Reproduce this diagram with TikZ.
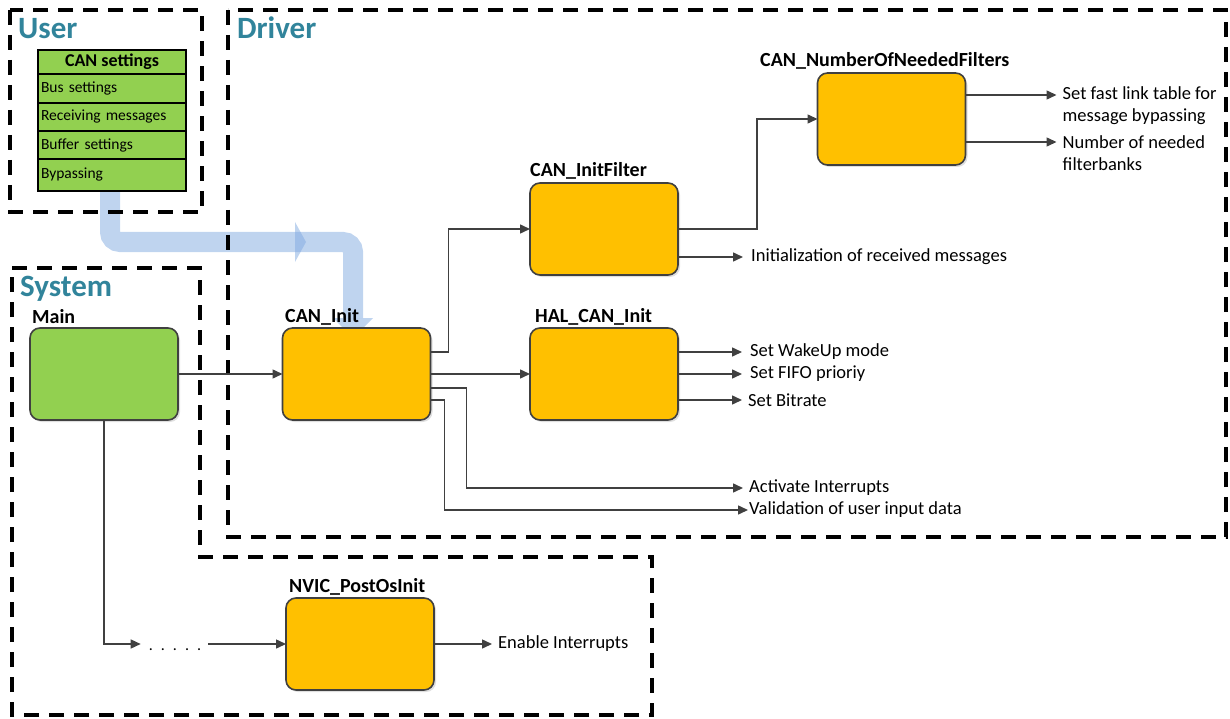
\documentclass[tikz,border=0pt]{standalone}
\usepackage{fontspec}
\setmainfont{Carlito}
\usetikzlibrary{arrows.meta,shadows,calc}
\definecolor{orangeC}{HTML}{FFC000}
\definecolor{greenC}{HTML}{92D050}
\definecolor{borderC}{HTML}{404040}
\definecolor{tealC}{HTML}{31849B}
\definecolor{blueB}{HTML}{7FA9E0}
\tikzset{
  frame/.style={draw=black, line width=3.2pt, dash pattern=on 15pt off 10pt},
  fnbox/.style={draw=borderC, line width=1.6pt, rounded corners=10pt, minimum width=148pt, minimum height=92pt, inner sep=0pt, outer sep=0pt,
    drop shadow={shadow xshift=2pt, shadow yshift=-2pt, opacity=0.25}},
  arr/.style={draw=borderC, line width=1.5pt, -{Triangle[length=10pt,width=9pt]}},
  titletxt/.style={font=\bfseries\fontsize{31}{34}\selectfont, text=tealC, anchor=base west, inner sep=0pt},
  lbl/.style={font=\bfseries\fontsize{20}{24}\selectfont, anchor=base west, inner sep=0pt},
  outtxt/.style={font=\fontsize{18.5}{22}\selectfont, anchor=west, inner sep=0pt, align=left},
  cell/.style={draw=black, line width=1.6pt, fill=greenC, minimum width=148pt, inner sep=0pt, outer sep=0pt},
  rowcell/.style={cell, text width=142pt, inner xsep=3pt, align=left, font=\fontsize{15.5}{18}\selectfont},
  blueband/.style={draw=blueB, line width=20pt, draw opacity=0.5, rounded corners=10pt},
  bluefill/.style={fill=blueB, fill opacity=0.5}
}
\begin{document}
\begin{tikzpicture}[x=1pt,y=-1pt]
\useasboundingbox (0,0) rectangle (1230,719);

% blue data-flow arrow
\draw[blueband] (110,191) -- (110,242) -- (353,242) -- (353,318);
\fill[bluefill] (333,318) -- (373,318) -- (353,338) -- cycle;
\fill[bluefill] (295,222) -- (306,242) -- (295,262) -- cycle;

% frames
\draw[frame] (10,10) rectangle (202,212);
\draw[frame] (228,10) rectangle (1226,537);
\draw[frame] (12,268) -- (200,268) -- (200,557) -- (652,557) -- (652,715) -- (12,715) -- cycle;

\node[titletxt] (tuser) at (18,39) {User};
\node[titletxt] (tdriver) at (237,39) {Driver};
\node[titletxt] (tsystem) at (20,296) {System};

% CAN settings table
\node[cell, minimum height=24pt, font=\bfseries\fontsize{18}{21}\selectfont] (hdr) at (112,62) {CAN settings};
\node[rowcell, minimum height=29pt] (r1) at (112,88.5) {Bus settings};
\node[rowcell, minimum height=28pt] (r2) at (112,117) {Receiving messages};
\node[rowcell, minimum height=28pt] (r3) at (112,145) {Buffer settings};
\node[rowcell, minimum height=32pt] (r4) at (112,175) {Bypassing};

% function boxes
\node[fnbox, fill=greenC] (main) at (104,374) {};
\node[fnbox, fill=orangeC] (caninit) at (356.5,374) {};
\node[fnbox, fill=orangeC] (initf) at (604,229) {};
\node[fnbox, fill=orangeC] (hal) at (604,374) {};
\node[fnbox, fill=orangeC] (nonf) at (891.5,119) {};
\node[fnbox, fill=orangeC] (nvic) at (360,644) {};

% labels
\node[lbl] (lmain) at (32,323) {Main};
\node[lbl] (lcaninit) at (285,322) {CAN\_Init};
\node[lbl] (linitf) at (530,177) {CAN\_InitFilter};
\node[lbl] (lhal) at (535,322) {HAL\_CAN\_Init};
\node[lbl] (lnonf) at (760,67) {CAN\_NumberOfNeededFilters};
\node[lbl] (lnvic) at (289,592) {NVIC\_PostOsInit};

% output texts
\node[outtxt] (o1) at ([xshift=73pt,yshift=-28pt]initf.east) {Initialization of received messages};
\node[outtxt] (o2) at ([xshift=97pt,yshift=13pt]nonf.east) {Set fast link table for\\message bypassing};
\node[outtxt] (o3) at ([xshift=97pt,yshift=-34pt]nonf.east) {Number of needed\\filterbanks};
\node[outtxt] (o4) at ([xshift=72pt,yshift=22pt]hal.east) {Set WakeUp mode};
\node[outtxt] (o5) at ([xshift=72pt]hal.east) {Set FIFO prioriy};
\node[outtxt] (o6) at ([xshift=70pt,yshift=-26pt]hal.east) {Set Bitrate};
\node[outtxt] (o7) at (749,488) {Activate Interrupts};
\node[outtxt] (o8) at (749,510) {Validation of user input data};
\node[outtxt] (o9) at ([xshift=64pt]nvic.east) {Enable Interrupts};
\node[inner sep=0pt, font=\fontsize{16}{19}\selectfont] (dots) at (175,650) {.\hspace{8pt}.\hspace{8pt}.\hspace{8pt}.\hspace{8pt}.};

% connectors
\draw[arr] (main.east) -- (caninit.west);
\draw[arr] (main.south) |- ([xshift=-8pt]dots.west |- nvic.west);
\draw[arr] ([xshift=7pt]dots.east |- nvic.west) -- (nvic.west);
\draw[arr] (nvic.east) -- ([xshift=-6pt]o9.west);

\draw[arr] ([yshift=22pt]caninit.east) -- ++(18,0) |- (initf.west);
\draw[arr] (caninit.east) -- (hal.west);
\draw[arr] ([yshift=-14pt]caninit.east) -- ++(36,0) |- ([xshift=-6pt]o7.west);
\draw[arr] ([yshift=-26pt]caninit.east) -- ++(14,0) |- ([xshift=-1pt]o8.west);

\draw[arr] (initf.east) -- ++(79,0) |- (nonf.west);
\draw[arr] ([yshift=-28pt]initf.east) -- ([xshift=-8pt]o1.west);

\draw[arr] ([yshift=24pt]nonf.east) -- ++(91,0);
\draw[arr] ([yshift=-23pt]nonf.east) -- ++(91,0);

\draw[arr] ([yshift=22pt]hal.east) -- ([xshift=-8pt]o4.west);
\draw[arr] (hal.east) -- ([xshift=-8pt]o5.west);
\draw[arr] ([yshift=-26pt]hal.east) -- ([xshift=-6pt]o6.west);
\end{tikzpicture}
\end{document}
